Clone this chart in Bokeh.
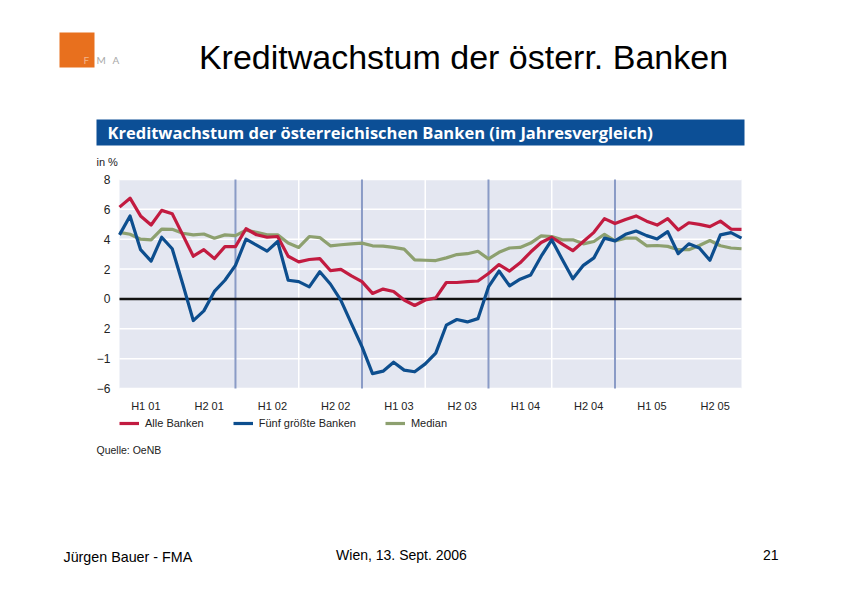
from bokeh.plotting import figure
from bokeh.models import Range1d, Label, BoxAnnotation, Legend, LegendItem
from bokeh.embed import file_html
from bokeh.resources import INLINE

# ---------------- data (monthly, Jan 2001 - Dec 2005) ----------------
months = list(range(60))
alle_banken = [6.15, 6.75, 5.56, 4.95, 5.93, 5.71, 4.29, 2.86, 3.30, 2.70,
               3.50, 3.50, 4.70, 4.30, 4.13, 4.18, 2.86, 2.48, 2.64, 2.70,
               1.90, 1.98, 1.54, 1.16, 0.37, 0.66, 0.50, -0.07, -0.44, -0.07,
               0.07, 1.10, 1.10, 1.16, 1.20, 1.70, 2.30, 1.87, 2.42, 3.14,
               3.78, 4.13, 3.67, 3.23, 3.85, 4.46, 5.38, 5.05, 5.32, 5.56,
               5.21, 4.95, 5.38, 4.62, 5.10, 4.99, 4.84, 5.21, 4.68, 4.66]
fuenf_groesste = [4.29, 5.56, 3.30, 2.53, 4.13, 3.36, 1.00, -1.45, -0.80, 0.50,
                  1.25, 2.25, 4.00, 3.60, 3.20, 3.85, 1.25, 1.16, 0.81, 1.82,
                  1.00, -0.10, -1.65, -3.20, -5.00, -4.84, -4.24, -4.77, -4.88, -4.35,
                  -3.63, -1.76, -1.38, -1.54, -1.32, 0.80, 1.87, 0.88, 1.32, 1.60,
                  2.86, 3.96, 2.64, 1.35, 2.25, 2.75, 4.07, 3.89, 4.33, 4.55,
                  4.24, 4.02, 4.51, 3.03, 3.69, 3.41, 2.59, 4.29, 4.44, 4.07]
median = [4.46, 4.33, 4.00, 3.95, 4.68, 4.66, 4.40, 4.29, 4.35, 4.07,
          4.29, 4.24, 4.60, 4.46, 4.29, 4.29, 3.74, 3.45, 4.18, 4.11,
          3.56, 3.63, 3.69, 3.74, 3.56, 3.54, 3.45, 3.34, 2.62, 2.59,
          2.57, 2.75, 2.97, 3.03, 3.19, 2.68, 3.12, 3.41, 3.45, 3.74,
          4.22, 4.18, 3.96, 3.96, 3.69, 3.85, 4.33, 3.89, 4.07, 4.07,
          3.56, 3.58, 3.52, 3.30, 3.30, 3.58, 3.91, 3.56, 3.41, 3.36]

x_tick_labels = ["H1 01", "H2 01", "H1 02", "H2 02", "H1 03",
                 "H2 03", "H1 04", "H2 04", "H1 05", "H2 05"]
y_ticks = [8, 6, 4, 2, 0, -2, -4, -6]
y_tick_labels = ["8", "6", "4", "2", "0", "2", "\u22121", "\u22126"]
series_names = ["Alle Banken", "Fünf größte Banken", "Median"]

slide_title = "Kreditwachstum der österr. Banken"
chart_title = "Kreditwachstum der österreichischen Banken (im Jahresvergleich)"
unit_text = "in %"
source_text = "Quelle: OeNB"
footer_left = "Jürgen Bauer - FMA"
footer_mid = "Wien, 13. Sept. 2006"
footer_right = "21"

# ---------------- styling ----------------
RED = "#c21b40"
BLUE = "#0d4e8e"
GREEN = "#8da06f"
PLOT_BG = "#e4e7f1"
YEAR_LINE = "#8a9bc6"
BANNER = "#0c4f96"

W, H = 840, 593
# page pixel box of the chart area
FL, FR, FT, FB = 119, 741, 179, 388
X0, X1 = months[0], months[-1]
Y0, Y1 = -6, 8
sx = (FR - FL) / (X1 - X0)
sy = (FB - FT) / (Y1 - Y0)

p = figure(width=W, height=H,
           x_range=Range1d(X0 - FL / sx, X0 + (W - FL) / sx),
           y_range=Range1d(Y0 - (H - FB) / sy, Y1 + FT / sy),
           min_border=0, output_backend="svg", toolbar_location=None,
           background_fill_color="white", border_fill_color="white",
           outline_line_color=None, x_axis_type=None, y_axis_type=None)
p.grid.visible = False

# chart background
p.add_layout(BoxAnnotation(left=X0, right=X1, bottom=Y0, top=Y1, fill_color=PLOT_BG,
                           fill_alpha=1, line_color=None, level="underlay"))

# horizontal white grid
p.segment(x0=[X0] * len(y_ticks), x1=[X1] * len(y_ticks), y0=y_ticks, y1=y_ticks,
          line_color="white", line_width=1.5)
# vertical separators: white at mid-year, blue-grey at year end
mid_years = [17 + 12 * k for k in range(3)]
year_ends = [11 + 12 * k for k in range(4)]
p.segment(x0=mid_years, x1=mid_years, y0=[Y0] * 3, y1=[Y1] * 3,
          line_color="white", line_width=1.5)
p.segment(x0=year_ends, x1=year_ends, y0=[Y0] * 4, y1=[Y1] * 4,
          line_color=YEAR_LINE, line_width=2)
p.segment(x0=[X0], x1=[X1], y0=[0], y1=[0], line_color="#111111", line_width=2.5)

r_med = p.line(months, median, line_color=GREEN, line_width=3.2, line_join="round")
r_all = p.line(months, alle_banken, line_color=RED, line_width=3.2, line_join="round")
r_big = p.line(months, fuenf_groesste, line_color=BLUE, line_width=3.2, line_join="round")

legend = Legend(items=[LegendItem(label=series_names[0], renderers=[r_all]),
                       LegendItem(label=series_names[1], renderers=[r_big]),
                       LegendItem(label=series_names[2], renderers=[r_med])],
                orientation="horizontal", location=(119, H - 429),
                background_fill_alpha=0, border_line_alpha=0, padding=0, margin=0,
                spacing=29, glyph_width=20, glyph_height=12, label_standoff=6,
                label_text_font="Liberation Sans", label_text_font_size="11px",
                label_text_color="#222222", label_height=12)
p.add_layout(legend, "center")


def put(text, px, py, size, color="#000000", font="Liberation Sans",
        align="left", style="normal"):
    p.add_layout(Label(x=px, y=H - py, x_units="screen", y_units="screen",
                       text=text, text_font=font, text_font_size=f"{size}px",
                       text_color=color, text_align=align, text_baseline="middle",
                       text_font_style=style))


def box(left, top, right, bottom, color):
    p.add_layout(BoxAnnotation(left=left, right=right, top=H - top, bottom=H - bottom,
                               left_units="screen", right_units="screen",
                               top_units="screen", bottom_units="screen",
                               fill_color=color, fill_alpha=1, line_color=None))


# axis tick labels (positioned by the data scales)
for t, lab in zip(y_ticks, y_tick_labels):
    p.add_layout(Label(x=110, y=t, x_units="screen", y_units="data", text=lab,
                       text_align="right", text_baseline="middle",
                       text_font="Liberation Sans", text_font_size="12px",
                       text_color="#222222"))
for k, lab in enumerate(x_tick_labels):
    p.add_layout(Label(x=2.5 + 6 * k, y=H - 405, x_units="data", y_units="screen", text=lab,
                       text_align="center", text_baseline="middle",
                       text_font="Liberation Sans", text_font_size="11px",
                       text_color="#222222"))

# logo
box(59, 32, 94, 67, "#e8701e")
put("F", 83, 59, 10, color="#f4b48a", font="Lato")
put("M", 96, 59, 10, color="#a9a9a9", font="Lato")
put("A", 112, 59, 10, color="#a9a9a9", font="Lato")

# slide title
put(slide_title, 463, 56, 34, align="center")

# chart banner
box(96, 119, 744, 145, BANNER)
put(chart_title, 107, 132, 16.5, color="white", font="Open Sans", style="bold")
put(unit_text, 96, 161, 11, color="#222222")

put(source_text, 96, 449, 10.5, color="#222222")

# footer
put(footer_left, 63, 556, 14.3)
put(footer_mid, 401, 554, 14, align="center")
put(footer_right, 778, 554, 14, align="right")

open("out.html", "w").write(file_html(p, INLINE))
